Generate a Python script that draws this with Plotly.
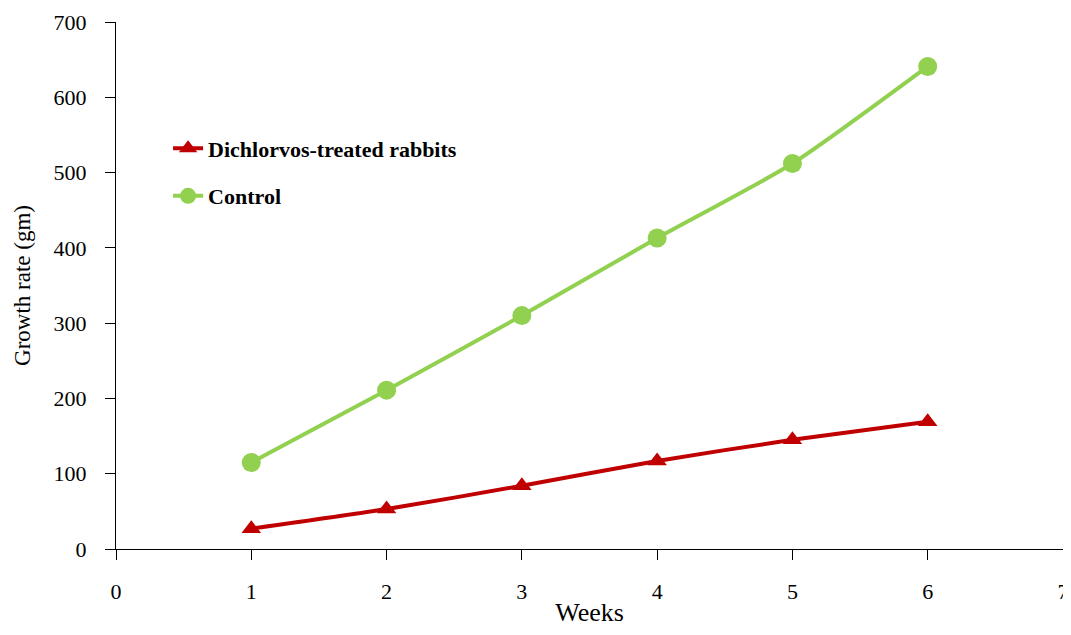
import plotly.graph_objects as go

weeks = [1, 2, 3, 4, 5, 6]
treated = [27, 53, 84, 117, 145, 169]
control = [115, 211, 310, 413, 512, 641]

fig = go.Figure()
fig.add_trace(go.Scatter(
    x=weeks, y=treated, name="Dichlorvos-treated rabbits", mode="lines+markers",
    line=dict(color="#C00000", width=4, shape="spline", smoothing=0.6),
    marker=dict(symbol="triangle-up", size=17, color="#C00000"),
    legendgroup="a"))
fig.add_trace(go.Scatter(
    x=weeks, y=control, name="Control", mode="lines+markers",
    line=dict(color="#92D050", width=4, shape="spline", smoothing=0.6),
    marker=dict(symbol="circle", size=19, color="#92D050"),
    legendgroup="b"))

font = "Liberation Serif"
# the page body adds an 8px margin on every side
fig.update_layout(
    width=1055, height=619,
    margin=dict(l=108, r=0, t=14, b=78, autoexpand=False),
    paper_bgcolor="white", plot_bgcolor="white",
    font=dict(family=font, size=22, color="black"),
    legend=dict(x=0.055, y=0.80, xanchor="left", yanchor="top",
                font=dict(family=font, size=22, color="black", weight="bold"),
                tracegroupgap=16, bgcolor="rgba(0,0,0,0)"),
    xaxis=dict(range=[0, 7], dtick=1, showgrid=False, zeroline=False,
               showline=True, linecolor="black", linewidth=1,
               ticks="outside", ticklen=10, tickcolor="black",
               ticklabelstandoff=13, ticklabeloverflow="allow", automargin=False,
               title=dict(text="Weeks", standoff=24, font=dict(size=26))),
    yaxis=dict(range=[0, 700], dtick=100, showgrid=False, zeroline=False,
               showline=True, linecolor="black", linewidth=1,
               ticks="outside", ticklen=10, tickcolor="black",
               ticklabelstandoff=14, ticklabeloverflow="allow", automargin=False,
               title=dict(text="Growth rate (gm)", standoff=16, font=dict(size=23))),
)
fig.write_html("out.html")
